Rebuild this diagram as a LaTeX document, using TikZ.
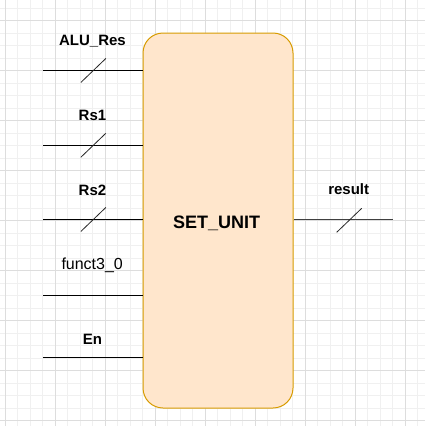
\documentclass[tikz,border=0pt]{standalone}
\usepackage{fontspec}
\setmainfont{Liberation Sans}
\definecolor{boxfill}{HTML}{FFE6CC}
\definecolor{boxline}{HTML}{D79B00}
\definecolor{gridminor}{HTML}{F0F0F0}
\definecolor{gridmajor}{HTML}{DDDDDD}
\begin{document}
\begin{tikzpicture}[x=1pt,y=-1pt,
  unitbox/.style={draw=boxline, fill=boxfill, line width=1pt, rounded corners=20pt,
    minimum width=150pt, minimum height=375pt, inner sep=0pt},
  unitlbl/.style={font=\fontsize{18}{20}\selectfont\bfseries, inner sep=0pt, anchor=base},
  wire/.style={draw=black, line width=1pt},
  busmark/.style={draw=black!85, line width=0.8pt},
  lbl/.style={font=\fontsize{15}{17}\selectfont\bfseries, inner sep=0pt, anchor=base},
  lblreg/.style={font=\fontsize{16}{18}\selectfont, inner sep=0pt, anchor=base},
]
\useasboundingbox (0,0) rectangle (425,426);
\fill[white] (0,0) rectangle (425,426);
% grid
\foreach \i in {0,...,34} {
  \draw[gridminor, line width=0.6pt] (5+12.5*\i,0) -- (5+12.5*\i,426);
  \draw[gridminor, line width=0.6pt] (0,8+12.5*\i) -- (425,8+12.5*\i);
}
\foreach \i in {0,...,8} {
  \draw[gridmajor, line width=0.7pt] (5+50*\i,0) -- (5+50*\i,426);
  \draw[gridmajor, line width=0.7pt] (0,20.5+50*\i) -- (425,20.5+50*\i);
}
% main block
\node[unitbox] (unit) at (218,220.5) {};
\node[unitlbl] (unitname) at (216.7,228.3) {SET\_UNIT};
% input wire starts
\coordinate (in1) at (43.3,70.7);
\coordinate (in2) at (43.3,145.3);
\coordinate (in3) at (43.3,219.5);
\coordinate (in4) at (43.3,295.3);
\coordinate (in5) at (43.3,357.7);
\coordinate (out1) at (392.7,219.5);
\draw[wire] (in1) -- (in1 -| unit.west);
\draw[wire] (in2) -- (in2 -| unit.west);
\draw[wire] (in3) -- (in3 -| unit.west);
\draw[wire] (in4) -- (in4 -| unit.west);
\draw[wire] (in5) -- (in5 -| unit.west);
\draw[wire, draw=black!75] (out1 -| unit.east) -- (out1);
% bus markers
\coordinate (m1) at (93.3,70.5);
\coordinate (m2) at (93.3,145.3);
\coordinate (m3) at (93.3,219.5);
\coordinate (m4) at (349.2,220.3);
\foreach \m in {m1,m2,m3,m4}
  \draw[busmark] ([shift={(-12.5,12)}]\m) -- ([shift={(12.5,-12)}]\m);
% labels
\node[lbl] (l1) at (92.5,45) {ALU\_Res};
\node[lbl] (l2) at (92.5,120) {Rs1};
\node[lbl] (l3) at (92.5,195) {Rs2};
\node[lblreg] (l4) at (92.2,269.5) {funct3\_0};
\node[lbl] (l5) at (92.5,344.5) {En};
\node[lbl] (l6) at (348.7,194.5) {result};
\end{tikzpicture}
\end{document}
